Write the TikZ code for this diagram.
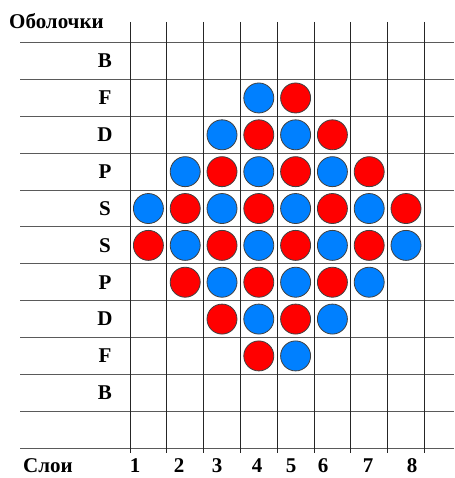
\documentclass[tikz,border=0pt]{standalone}
\usepackage{fontspec}
\setmainfont{Liberation Serif}
\definecolor{BallBlue}{HTML}{0080FF}
\definecolor{BallRed}{HTML}{FF0000}
\definecolor{GridGray}{HTML}{5A5A5A}

\tikzset{
  ball/.style={circle,draw=black!75,line width=0.8pt,minimum size=30pt,inner sep=0pt},
  shelllabel/.style={font=\bfseries\fontsize{21}{21}\selectfont,inner sep=0pt},
  hline/.style={draw=GridGray,line width=1pt},
  vline/.style={draw=black!85,line width=0.9pt}
}

\begin{document}
\begin{tikzpicture}[x=1pt,y=-1pt]
  \useasboundingbox (0,0) rectangle (454,478);
  % grid
  \foreach \j in {0,...,11}
    \draw[hline] (20,{42.7+36.85*\j}) -- (454,{42.7+36.85*\j});
  \foreach \i in {0,...,8}
    \draw[vline] ({130+36.8*\i},22) -- ({130+36.8*\i},453);

  % titles
  \node[shelllabel,anchor=west] (shells) at (9,21) {Оболочки};
  \node[shelllabel,anchor=west] (layers) at (23,466) {Слои};

  % shell names
  \foreach \lab [count=\j] in {B,F,D,P,S,S,P,D,F,B}
    \node[shelllabel] (s\j) at (105,{42.7+36.85*(\j-0.5)}) {\lab};

  % layer numbers
  \foreach \n/\x in {1/135,2/179,3/217,4/257,5/291,6/323,7/368,8/412}
    \node[shelllabel] (l\n) at (\x,466) {\n};

  % balls
  \foreach \r/\a/\b in {2/4/5,3/3/6,4/2/7,5/1/8,6/1/8,7/2/7,8/3/6,9/4/5}
    \foreach \c in {\a,...,\b} {
      \pgfmathtruncatemacro\parity{mod(\r+\c,2)}
      \ifnum\parity=0 \def\ballcol{BallBlue}\else\def\ballcol{BallRed}\fi
      \node[ball,fill=\ballcol] (b-\r-\c) at ({130+36.8*(\c-0.5)},{42.7+36.85*(\r-0.5)}) {};
    }
\end{tikzpicture}
\end{document}
